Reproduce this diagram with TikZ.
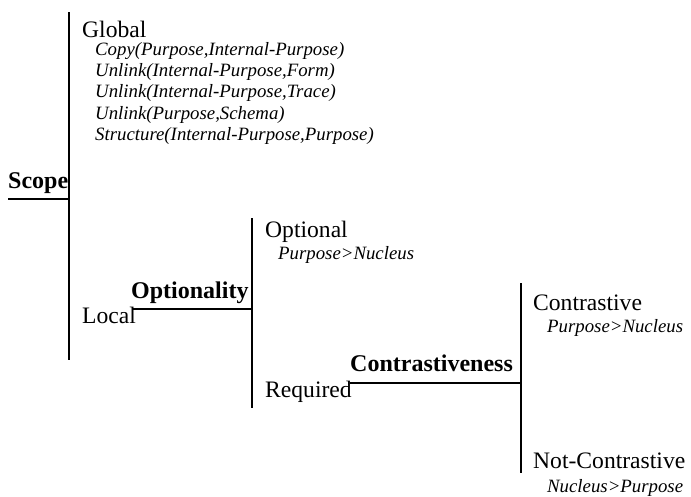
\documentclass[tikz,border=0pt]{standalone}
\usepackage{fontspec}
\setmainfont{Liberation Serif}
\usepackage{tikz}
\usetikzlibrary{positioning}

\begin{document}
\begin{tikzpicture}[x=1pt,y=-1pt,
                    bar/.style={line width=2.8pt, black},
                    branch/.style={line width=2.8pt, black},
                    dimension/.style={anchor=base west, inner sep=0pt, font=\fontsize{24}{26}\selectfont\bfseries},
                    value/.style={anchor=base west, inner sep=0pt, font=\fontsize{23.6}{26}\selectfont},
                    constraint/.style={anchor=base west, inner sep=0pt, font=\fontsize{18.8}{21}\selectfont\itshape},
                   ]

\useasboundingbox (0,0) rectangle (691,496);

% Scope
\coordinate (scopetop) at (69,12);
\coordinate (scopebot) at (69,360);
\coordinate (scopein) at (8,199);
\coordinate (scopejoin) at (69,199);
\node[dimension] (scope) at (8,188) {Scope};
\draw[bar] (scopetop) -- (scopebot);
\draw[branch] (scopein) -- (scopejoin);

\node[value] (global) at (82,37) {Global};
\node[constraint] (g1) at (95,55) {Copy(Purpose,Internal-Purpose)};
\node[constraint] (g2) at (95,76) {Unlink(Internal-Purpose,Form)};
\node[constraint] (g3) at (95,97) {Unlink(Internal-Purpose,Trace)};
\node[constraint] (g4) at (95,119) {Unlink(Purpose,Schema)};
\node[constraint] (g5) at (95,140) {Structure(Internal-Purpose,Purpose)};
\node[value] (local) at (82,323) {Local};

% Optionality
\coordinate (opttop) at (252,218);
\coordinate (optbot) at (252,408);
\coordinate (optin) at (133,309);
\coordinate (optjoin) at (252,309);
\node[dimension] (optionality) at (131,298) {Optionality};
\draw[bar] (opttop) -- (optbot);
\draw[branch] (optin) -- (optjoin);

\node[value] (optional) at (265,237) {Optional};
\node[constraint] (o1) at (278,259) {Purpose>Nucleus};
\node[value] (required) at (265,397) {Required};

% Contrastiveness
\coordinate (contop) at (521,283);
\coordinate (conbot) at (521,473);
\coordinate (conin) at (350,383);
\coordinate (conjoin) at (521,383);
\node[dimension] (contrastiveness) at (350,371) {Contrastiveness};
\draw[bar] (contop) -- (conbot);
\draw[branch] (conin) -- (conjoin);

\node[value] (contrastive) at (533,310) {Contrastive};
\node[constraint] (c1) at (547,332) {Purpose>Nucleus};
\node[value] (notcontrastive) at (533,468) {Not-Contrastive};
\node[constraint] (n1) at (547,492) {Nucleus>Purpose};

\end{tikzpicture}
\end{document}
